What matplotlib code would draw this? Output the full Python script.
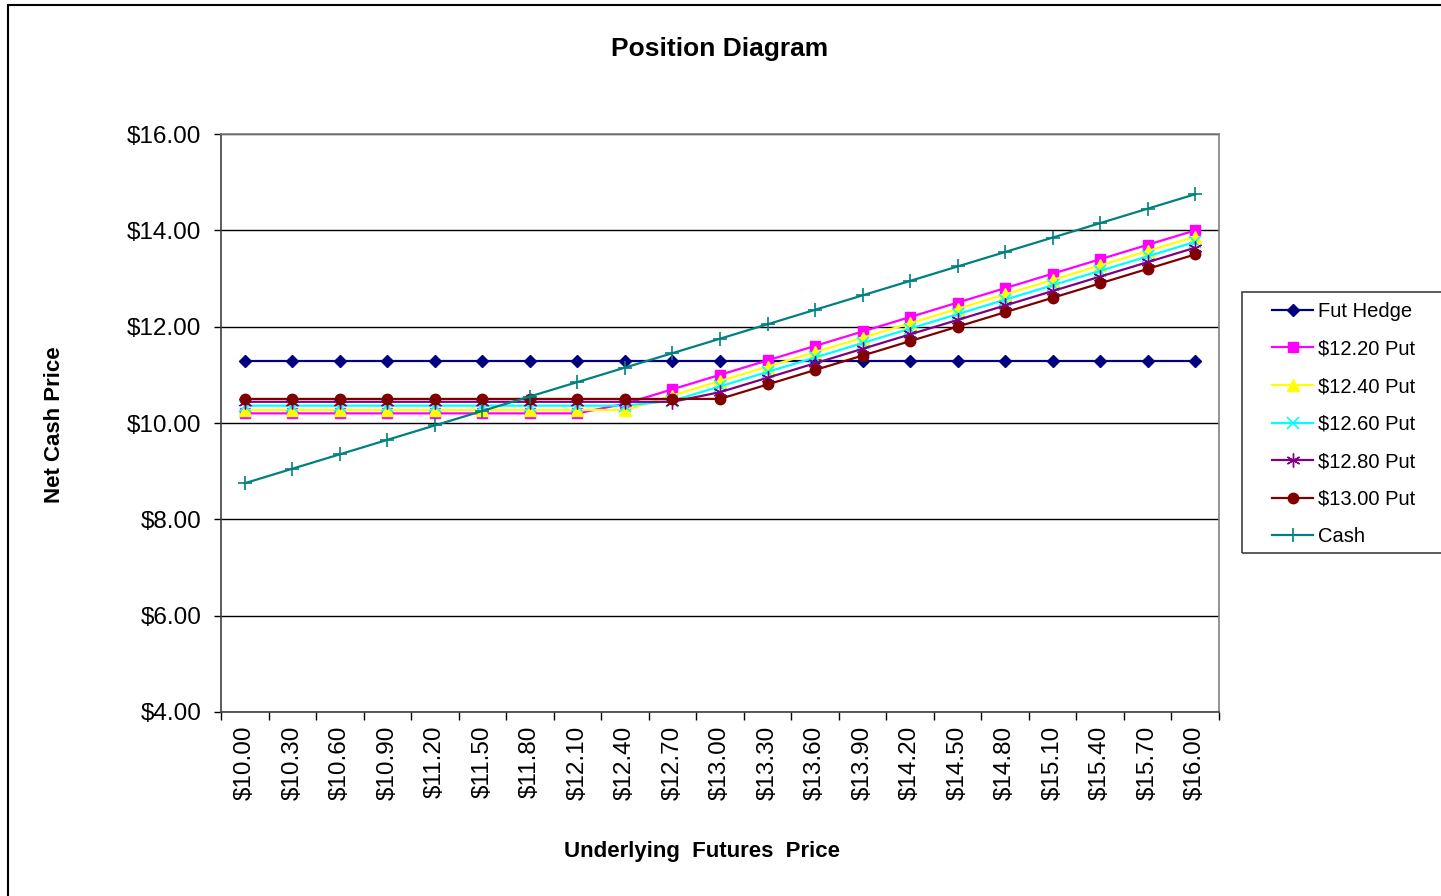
import matplotlib.pyplot as plt
from matplotlib.patches import Rectangle

plt.rcParams['font.family'] = ['Liberation Sans', 'DejaVu Sans']

# Dados
precos = ['$10.00', '$10.30', '$10.60', '$10.90', '$11.20', '$11.50', '$11.80',
          '$12.10', '$12.40', '$12.70', '$13.00', '$13.30', '$13.60', '$13.90',
          '$14.20', '$14.50', '$14.80', '$15.10', '$15.40', '$15.70', '$16.00']

fut_hedge = [11.28] * 21
put_1220 = [10.20, 10.20, 10.20, 10.20, 10.20, 10.20, 10.20, 10.20, 10.40, 10.70, 11.00,
            11.30, 11.60, 11.90, 12.20, 12.50, 12.80, 13.10, 13.40, 13.70, 14.00]
put_1240 = [10.27, 10.27, 10.27, 10.27, 10.27, 10.27, 10.27, 10.27, 10.27, 10.57, 10.87,
            11.17, 11.47, 11.77, 12.07, 12.37, 12.67, 12.97, 13.27, 13.57, 13.87]
put_1260 = [10.36, 10.36, 10.36, 10.36, 10.36, 10.36, 10.36, 10.36, 10.36, 10.46, 10.76,
            11.06, 11.36, 11.66, 11.96, 12.26, 12.56, 12.86, 13.16, 13.46, 13.76]
put_1280 = [10.44, 10.44, 10.44, 10.44, 10.44, 10.44, 10.44, 10.44, 10.44, 10.44, 10.64,
            10.94, 11.24, 11.54, 11.84, 12.14, 12.44, 12.74, 13.04, 13.34, 13.64]
put_1300 = [10.50, 10.50, 10.50, 10.50, 10.50, 10.50, 10.50, 10.50, 10.50, 10.50, 10.50,
            10.80, 11.10, 11.40, 11.70, 12.00, 12.30, 12.60, 12.90, 13.20, 13.50]
cash = [8.75, 9.05, 9.35, 9.65, 9.95, 10.25, 10.55, 10.85, 11.15, 11.45, 11.75,
        12.05, 12.35, 12.65, 12.95, 13.25, 13.55, 13.85, 14.15, 14.45, 14.75]

W, H = 1441, 896
fig = plt.figure(figsize=(W / 100, H / 100), dpi=100)
ax = fig.add_axes([221 / W, 1 - 712 / H, (1219 - 221) / W, (712 - 134) / H])

x = list(range(len(precos)))

ax.plot(x, fut_hedge, color='#000080', marker='D', markersize=6.5, lw=1.6, label='Fut Hedge')
ax.plot(x, put_1220, color='#FF00FF', marker='s', markersize=7, lw=1.6, label='$12.20 Put')
ax.plot(x, put_1240, color='#FFFF00', marker='^', markersize=8, lw=1.6, label='$12.40 Put')
ax.plot(x, put_1260, color='#00FFFF', marker='x', markersize=8, mew=1.2, lw=1.6, label='$12.60 Put')
ax.plot(x, put_1280, color='#800080', marker=(6, 2, 0), markersize=10, mew=1.0, lw=1.6, label='$12.80 Put')
ax.plot(x, put_1300, color='#800000', marker='o', markersize=7.5, lw=1.6, label='$13.00 Put')
ax.plot(x, cash, color='#008080', marker='+', markersize=10, mew=1.2, lw=1.6, label='Cash')

# Eixo Y
ax.set_ylim(4, 16)
ax.set_yticks([4, 6, 8, 10, 12, 14, 16])
ax.set_yticklabels(['$%.2f' % v for v in [4, 6, 8, 10, 12, 14, 16]], fontsize=17.5)
ax.yaxis.grid(True, color='black', lw=1)
ax.tick_params(axis='y', length=5, width=1, pad=9, color='black')

# Eixo X (categorias com marcas entre elas)
ax.set_xlim(-0.5, len(precos) - 0.5)
ax.set_xticks([i - 0.5 for i in range(len(precos) + 1)])
ax.set_xticklabels([])
ax.set_xticks(x, minor=True)
ax.set_xticklabels(precos, minor=True, rotation=90, fontsize=17.5)
ax.tick_params(axis='x', which='major', length=6, width=1, color='black')
ax.tick_params(axis='x', which='minor', length=0, pad=10)

for s in ['top', 'right']:
    ax.spines[s].set_color('#808080')
for s in ['left', 'bottom']:
    ax.spines[s].set_color('#404040')
for s in ax.spines.values():
    s.set_linewidth(1.2)
ax.set_axisbelow(True)

fig.text(720 / W, 1 - 49 / H, 'Position Diagram', fontsize=19, fontweight='bold',
         ha='center', va='center')
fig.text(702 / W, 1 - 851 / H, 'Underlying  Futures  Price', fontsize=16, fontweight='bold',
         ha='center', va='center')
fig.text(55 / W, 1 - 425 / H, 'Net Cash Price', fontsize=16, fontweight='bold',
         ha='center', va='center', rotation=90)

# Legenda
leg = fig.legend(loc='upper left', bbox_to_anchor=(1272 / W, 1 - 302 / H), frameon=False,
                 fontsize=14.5, handlelength=2.05, handletextpad=0.25, labelspacing=0.92,
                 borderaxespad=0, borderpad=0)
fig.add_artist(Rectangle((1242 / W, 1 - 553 / H), 0.2, (553 - 292) / H,
                         transform=fig.transFigure, fill=False, edgecolor='#404040', lw=1.2))

# Borda do gráfico
fig.add_artist(Rectangle((8 / W, -0.05), 1.0, 1.05 - 5 / H, transform=fig.transFigure,
                         fill=False, edgecolor='black', lw=1.5))

fig.savefig('out.png', dpi=100)
